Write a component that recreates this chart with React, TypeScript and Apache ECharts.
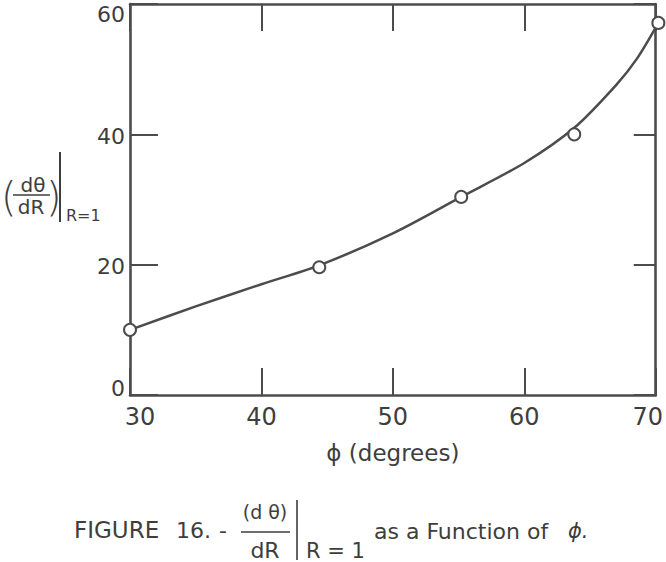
import React, { useEffect, useRef } from "react";
import * as echarts from "echarts";

const xTicks = [30, 40, 50, 60, 70];
const yTicks = [0, 20, 40, 60];
const pointPhi = [30, 44.4, 55.2, 63.8, 70.2];
const pointVal = [10, 19.6, 30.4, 40, 57.1];
const curvePhi = [30, 35, 40, 44.4, 50, 55.2, 60, 63.8, 67, 68.6, 70.2];
const curveVal = [10, 13.6, 17.0, 19.9, 24.8, 30.4, 35.6, 41.0, 47.6, 51.7, 57.1];

const INK = "#3e3e3e";
const LINE = "#4c4c4c";
const FONT = "DejaVu Sans";

export default function App() {
  const ref = useRef<HTMLDivElement>(null);
  useEffect(() => {
    if (!ref.current) return;
    const chart = echarts.init(ref.current, null, { renderer: "svg" });
    const axisLine = { show: true, onZero: false, lineStyle: { color: LINE, width: 2.6 } };
    const tick = (len: number) => ({ show: true, inside: true, length: len, lineStyle: { color: LINE, width: 2 } });
    const t = (s: string, x: number, y: number, size: number, extra: any = {}) => ({
      type: "text",
      x,
      y,
      style: {
        text: s,
        fill: INK,
        font: `${extra.style || "normal"} ${extra.weight || "normal"} ${size}px ${FONT}`,
        textAlign: extra.align || "left",
        textVerticalAlign: "middle",
      },
    });
    const ln = (x1: number, y1: number, x2: number, y2: number, w = 1.8) => ({
      type: "line",
      shape: { x1, y1, x2, y2 },
      style: { stroke: INK, lineWidth: w },
    });
    chart.setOption({
      animation: false,
      backgroundColor: "#ffffff",
      grid: { left: 130, right: 10, top: 4, bottom: 167 },
      xAxis: [
        {
          type: "value",
          position: "bottom",
          min: xTicks[0],
          max: xTicks[xTicks.length - 1],
          interval: 10,
          axisLine,
          axisTick: tick(27),
          splitLine: { show: false },
          axisLabel: {
            color: INK,
            fontFamily: FONT,
            fontSize: 24,
            margin: 10,
            formatter: (v: number) =>
              v === xTicks[0] ? `{l|${v}}` : v === xTicks[xTicks.length - 1] ? `{r|${v}}` : `{n|${v}}`,
            rich: {
              l: { fontFamily: FONT, fontSize: 24, color: INK, padding: [0, 0, 0, 20] },
              r: { fontFamily: FONT, fontSize: 24, color: INK, padding: [0, 16, 0, 0] },
              n: { fontFamily: FONT, fontSize: 24, color: INK },
            },
          },
          name: "ϕ (degrees)",
          nameLocation: "middle",
          nameGap: 46,
          nameTextStyle: { color: INK, fontFamily: FONT, fontSize: 23, verticalAlign: "top" },
        },
        {
          type: "value",
          position: "top",
          min: xTicks[0],
          max: xTicks[xTicks.length - 1],
          interval: 10,
          axisLine,
          axisTick: tick(27),
          splitLine: { show: false },
          axisLabel: { show: false },
        },
      ],
      yAxis: [
        {
          type: "value",
          position: "left",
          min: yTicks[0],
          max: yTicks[yTicks.length - 1],
          interval: 20,
          axisLine,
          axisTick: tick(28),
          splitLine: { show: false },
          axisLabel: {
            color: INK,
            fontFamily: FONT,
            fontSize: 22,
            margin: 5,
            formatter: (v: number) =>
              v === yTicks[yTicks.length - 1] ? `{t|${v}}` : v === yTicks[0] ? `{b|${v}}` : `{n|${v}}`,
            rich: {
              t: { fontFamily: FONT, fontSize: 22, color: INK, padding: [20, 0, 0, 0] },
              b: { fontFamily: FONT, fontSize: 22, color: INK, padding: [0, 0, 14, 0] },
              n: { fontFamily: FONT, fontSize: 22, color: INK, padding: [4, 0, 0, 0] },
            },
          },
        },
        {
          type: "value",
          position: "right",
          min: yTicks[0],
          max: yTicks[yTicks.length - 1],
          interval: 20,
          axisLine,
          axisTick: tick(22),
          splitLine: { show: false },
          axisLabel: { show: false },
        },
      ],
      series: [
        {
          type: "line",
          data: curvePhi.map((x, i) => [x, curveVal[i]]),
          smooth: 0.3,
          showSymbol: false,
          clip: false,
          lineStyle: { color: LINE, width: 2.5 },
          z: 3,
        },
        {
          type: "scatter",
          data: pointPhi.map((x, i) => [x, pointVal[i]]),
          symbol: "circle",
          symbolSize: 12,
          clip: false,
          itemStyle: { color: "#ffffff", borderColor: LINE, borderWidth: 2, opacity: 1 },
          z: 5,
        },
      ],
      graphic: [
        // y-axis label
        t("(", 1, 197, 40, { weight: "lighter" }),
        t("dθ", 33, 185, 20, { align: "center" }),
        ln(13, 195, 50, 195, 1.6),
        t("dR", 31, 207, 20, { align: "center" }),
        t(")", 46, 197, 40, { weight: "lighter" }),
        ln(60, 152, 60, 222, 2),
        t("R=1", 66, 215, 16),
        // caption
        t("FIGURE", 74, 530, 23),
        t("16.", 176, 530, 22),
        t("-", 219, 530, 22),
        t("(d θ)", 265, 512, 19, { align: "center" }),
        ln(241, 532, 290, 532, 1.4),
        t("dR", 265, 550, 22, { align: "center" }),
        ln(297, 500, 297, 560, 1.6),
        t("R = 1", 306, 551, 21),
        t("as a Function of", 374, 531, 22),
        t("ϕ.", 568, 531, 21, { style: "italic" }),
      ],
    });
    return () => chart.dispose();
  }, []);
  return (
    <div
      ref={ref}
      style={{ position: "fixed", left: 0, top: 0, width: 666, height: 562, background: "#fff" }}
    />
  );
}
